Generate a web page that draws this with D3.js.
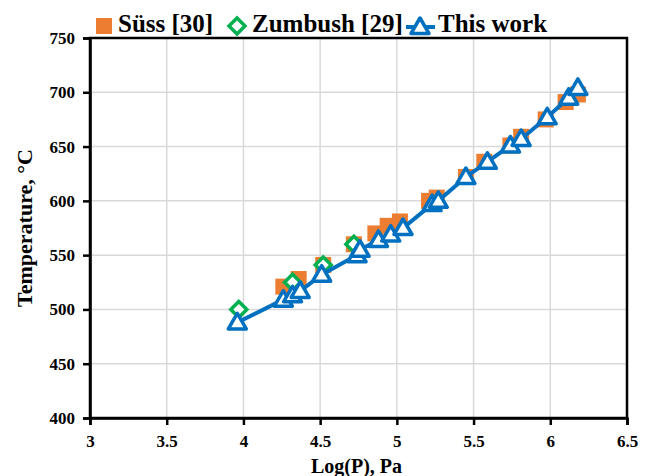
<!DOCTYPE html>
<html lang="en">
<head>
<meta charset="UTF-8">
<title>Temperature vs Log(P)</title>
<script src="https://d3js.org/d3.v7.min.js"></script>
<style>
  body { margin: 0; background: #fff; }
  svg text { font-family: "Liberation Serif", "Times New Roman", serif; font-weight: bold; fill: #000; }
</style>
</head>
<body>
<div id="chart"></div>
<script>
// data
const sussLogP = [4.26, 4.36, 4.52, 4.72, 4.86, 4.94, 5.02, 5.21, 5.26, 5.45, 5.57, 5.74, 5.81, 5.97, 6.10, 6.18];
const sussT    = [521, 528, 541, 560, 570, 577, 581, 600, 603, 622, 636, 651, 659, 675, 691, 698];

const zumLogP = [3.97, 4.32, 4.52, 4.72];
const zumT    = [500, 525, 541, 560];

const workLogP = [3.96, 4.26, 4.32, 4.37, 4.51, 4.74, 4.76, 4.88, 4.96, 5.04, 5.23, 5.27, 5.45, 5.59, 5.74, 5.81, 5.98, 6.12, 6.18];
const workT    = [488, 509, 513, 517, 532, 550, 555, 564, 569, 575, 597, 600, 622, 636, 651, 657, 677, 695, 704];

const xTicks = [3, 3.5, 4, 4.5, 5, 5.5, 6, 6.5];
const yTicks = [400, 450, 500, 550, 600, 650, 700, 750];

const legendNames = ["Süss [30]", "Zumbush [29]", "This work"];

const width = 646, height = 476;
const margin = {left: 90, right: 19, top: 38, bottom: 58};

const blue = "#0070C0", orange = "#ED7D31", green = "#00B050";

const svg = d3.select("#chart").append("svg")
    .attr("width", width)
    .attr("height", height);

const x = d3.scaleLinear().domain([3, 6.5]).range([margin.left, width - margin.right]);
const y = d3.scaleLinear().domain([400, 750]).range([height - margin.bottom, margin.top]);

// gridlines
svg.append("g").selectAll("line").data(xTicks.slice(1, -1)).enter().append("line")
    .attr("x1", d => x(d)).attr("x2", d => x(d))
    .attr("y1", y(400)).attr("y2", y(750))
    .attr("stroke", "#d9d9d9").attr("stroke-width", 1.5);
svg.append("g").selectAll("line").data(yTicks.slice(1, -1)).enter().append("line")
    .attr("x1", x(3)).attr("x2", x(6.5))
    .attr("y1", d => y(d)).attr("y2", d => y(d))
    .attr("stroke", "#d9d9d9").attr("stroke-width", 1.5);

// frame
svg.append("rect")
    .attr("x", x(3)).attr("y", y(750))
    .attr("width", x(6.5) - x(3)).attr("height", y(400) - y(750))
    .attr("fill", "none").attr("stroke", "#000").attr("stroke-width", 2.5);

// axes
const xAxis = svg.append("g")
    .attr("transform", `translate(0,${y(400)})`)
    .call(d3.axisBottom(x).tickValues(xTicks).tickSize(7).tickPadding(9).tickFormat(d => d));
const yAxis = svg.append("g")
    .attr("transform", `translate(${x(3)},0)`)
    .call(d3.axisLeft(y).tickValues(yTicks).tickSize(7).tickPadding(8));
[xAxis, yAxis].forEach(a => {
  a.select(".domain").attr("stroke", "#000").attr("stroke-width", 2.5);
  a.selectAll(".tick line").attr("stroke", "#000").attr("stroke-width", 2.5);
  a.selectAll("text").style("font-size", "17px");
});
xAxis.selectAll("text").attr("dy", "0.75em");

// axis titles
svg.append("text")
    .attr("x", (x(3) + x(6.5)) / 2 - 2).attr("y", 473)
    .attr("text-anchor", "middle").style("font-size", "20px")
    .text("Log(P), Pa");
svg.append("text")
    .attr("transform", `translate(32,${(y(400) + y(750)) / 2}) rotate(-90)`)
    .attr("text-anchor", "middle").style("font-size", "22px")
    .text("Temperature, °C");

const sq = 16;
// Süss squares
svg.append("g").selectAll("rect").data(d3.range(sussLogP.length)).enter().append("rect")
    .attr("x", i => x(sussLogP[i]) - sq / 2)
    .attr("y", i => y(sussT[i]) - sq / 2)
    .attr("width", sq).attr("height", sq)
    .attr("fill", orange);

// Zumbush diamonds
const diamond = "M0,-8L8,0L0,8L-8,0Z";
svg.append("g").selectAll("path").data(d3.range(zumLogP.length)).enter().append("path")
    .attr("transform", i => `translate(${x(zumLogP[i])},${y(zumT[i])})`)
    .attr("d", diamond)
    .attr("fill", "#fff").attr("stroke", green).attr("stroke-width", 3.5);

// This work line + triangles
const line = d3.line().x(i => x(workLogP[i])).y(i => y(workT[i]));
svg.append("path")
    .attr("d", line(d3.range(workLogP.length)))
    .attr("fill", "none").attr("stroke", blue).attr("stroke-width", 4);

const tri = "M0,-9L9,6.5L-9,6.5Z";
svg.append("g").selectAll("path").data(d3.range(workLogP.length)).enter().append("path")
    .attr("transform", i => `translate(${x(workLogP[i])},${y(workT[i])})`)
    .attr("d", tri)
    .attr("fill", "#fff").attr("stroke", blue).attr("stroke-width", 3.5).attr("stroke-linejoin", "round");

// legend
const leg = svg.append("g");
leg.append("rect").attr("x", 96).attr("y", 18).attr("width", 16).attr("height", 16).attr("fill", orange);
leg.append("text").attr("x", 118).attr("y", 32).style("font-size", "25px").text(legendNames[0]);
leg.append("path").attr("transform", "translate(237,26)").attr("d", diamond)
    .attr("fill", "#fff").attr("stroke", green).attr("stroke-width", 3.5);
leg.append("text").attr("x", 252).attr("y", 32).style("font-size", "25px").text(legendNames[1]);
leg.append("line").attr("x1", 406).attr("x2", 435).attr("y1", 27).attr("y2", 27)
    .attr("stroke", blue).attr("stroke-width", 4);
leg.append("path").attr("transform", "translate(420,27)").attr("d", tri)
    .attr("fill", "#fff").attr("stroke", blue).attr("stroke-width", 3.5).attr("stroke-linejoin", "round");
leg.append("text").attr("x", 438).attr("y", 32).style("font-size", "25px").text(legendNames[2]);
</script>
</body>
</html>
